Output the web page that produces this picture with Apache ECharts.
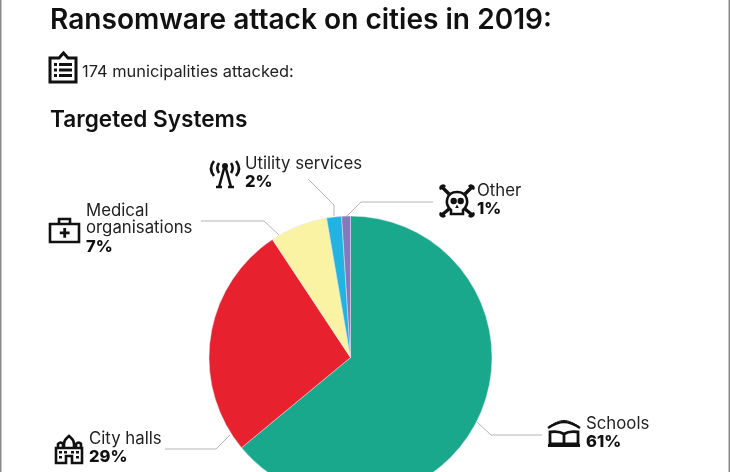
<!DOCTYPE html>
<html>
<head>
<meta charset="utf-8">
<style>
  html, body { margin: 0; padding: 0; background: #fff; }
  #chart { width: 730px; height: 472px; }
</style>
<script src="https://cdn.jsdelivr.net/npm/echarts@6/dist/echarts.min.js"></script>
</head>
<body>
<div id="chart"></div>
<script>
var FONT = "Inter";

var categories = ["Schools", "City halls", "Medical\norganisations", "Utility services", "Other"];
// printed percentages
var printedShares = [61, 29, 7, 2, 1];
// slice sizes as actually drawn in the picture (they differ a bit from the printed numbers)
var drawnShares = [64, 26.7, 6.6, 1.7, 1];
var sliceColors = ["#1aa88c", "#e8212e", "#fbf3a4", "#21b4e0", "#8877bf"];

// label top-left corners and leader lines, same order as categories
var labelSpots = [[586, 415], [89, 430], [86, 202], [245, 155], [477, 182]];
var leaderLines = [
  [[477, 422], [491, 435], [542, 435]],
  [[230, 435], [216, 449], [165, 449]],
  [[279, 235], [264, 221], [201, 221]],
  [[334, 216], [334, 205], [308, 179]],
  [[347, 216], [361, 202], [433, 202]]
];

var pieData = categories.map(function (name, i) {
  return { name: name, value: drawnShares[i], itemStyle: { color: sliceColors[i] } };
});

// icons are svg paths, each one registered as its own shape
var iconCount = 0;
function icon(x, y, d, filled, lineWidth) {
  var shapeName = "icon" + (iconCount++);
  echarts.graphic.registerShape(shapeName, echarts.graphic.extendPath(d, {}));
  return {
    type: shapeName,
    x: x,
    y: y,
    style: filled
      ? { fill: "#111", stroke: null }
      : { fill: null, stroke: "#111", lineWidth: lineWidth || 2.6, lineJoin: "miter" }
  };
}

var myChart = echarts.init(document.getElementById("chart"), null, { renderer: "canvas" });

var option = {
  animation: false,
  backgroundColor: "#fff",
  textStyle: { fontFamily: FONT },
  title: [
    { text: "Ransomware attack on cities in 2019:", left: 45, top: 2, textStyle: { fontFamily: FONT, fontSize: 28.1, fontWeight: 600, color: "#111" } },
    { text: "174 municipalities attacked:", left: 77, top: 59, textStyle: { fontFamily: FONT, fontSize: 16.4, fontWeight: 400, color: "#222" } },
    { text: "Targeted Systems", left: 45, top: 104, textStyle: { fontFamily: FONT, fontSize: 22.6, fontWeight: 600, color: "#111" } }
  ],
  series: [
    {
      type: "pie",
      center: [350.5, 357.5],
      radius: [0, 141.5],
      startAngle: 90,
      clockwise: true,
      data: pieData,
      itemStyle: { borderColor: "#dfe6ee", borderWidth: 0.5 },
      emphasis: { disabled: true },
      label: {
        show: true,
        position: "outside",
        formatter: function (p) {
          var lines = p.name.split("\n").map(function (s) { return "{n|" + s + "}"; });
          lines.push("{p|" + printedShares[p.dataIndex] + "%}");
          return lines.join("\n");
        },
        rich: {
          n: { fontFamily: FONT, fontSize: 16.8, lineHeight: 17.5, color: "#222" },
          p: { fontFamily: FONT, fontSize: 16.5, fontWeight: 800, lineHeight: 20, color: "#111" }
        }
      },
      labelLine: { show: true, lineStyle: { color: "#b4b4b4", width: 1 } },
      labelLayout: function (params) {
        var spot = labelSpots[params.dataIndex];
        return {
          x: spot[0],
          y: spot[1],
          align: "left",
          verticalAlign: "top",
          labelLinePoints: leaderLines[params.dataIndex]
        };
      }
    }
  ],
  graphic: [
    // scan edges
    { type: "rect", shape: { x: 0, y: 0, width: 1.5, height: 472 }, style: { fill: "#8a8a8a" } },
    { type: "rect", shape: { x: 728.5, y: 0, width: 1.5, height: 472 }, style: { fill: "#8a8a8a" } },
    // clipboard
    icon(50, 53, "M0 5H9L13.5 0L18 5H26V29H0Z", false, 3),
    icon(50, 53, "M4 10h3v3h-3zM9 10h13v3h-13zM4 15.5h3v3h-3zM9 15.5h13v3h-13zM4 21h3v3h-3zM9 21h13v3h-13z", true),
    // antenna
    icon(210, 158, "M15 7L9 29M15 7L21 29M6 29H12M18 29H24M4 3C0 8 0 13 4 18M26 3C30 8 30 13 26 18M9 5C7 8 7 12 9 15M21 5C23 8 23 12 21 15"),
    { type: "circle", shape: { cx: 225, cy: 166, r: 3 }, style: { fill: "#111" } },
    // medical case
    icon(50, 218, "M0 6H29V24H0ZM9 6V1H20V6"),
    icon(50, 218, "M13.3 10h2.8v3.5h3.5v2.8h-3.5v3.5h-2.8v-3.5h-3.5v-2.8h3.5z", true),
    // skull and bones
    icon(440, 185, "M3 3L9 9M31 3L25 9M3 29L9 24M31 29L25 24", false, 3.4),
    icon(440, 185, "M11 25C4 19 6 7 17 7C28 7 30 19 23 25V29H11Z", false, 2.6),
    icon(440, 185, "M0 5a3.4 3.4 0 0 1 6 -4L3 4zM34 5a3.4 3.4 0 0 0 -6 -4L31 4zM0 27a3.4 3.4 0 0 0 6 4L3 28zM34 27a3.4 3.4 0 0 1 -6 4L31 28zM10.5 16a3.2 3.2 0 1 0 6.4 0a3.2 3.2 0 1 0 -6.4 0zM17.5 16a3.2 3.2 0 1 0 6.4 0a3.2 3.2 0 1 0 -6.4 0zM15.2 23h3.6l-1.8 -3.5z", true),
    // city hall
    icon(55, 435, "M1 28V13H27V28H17V21H11V28ZM3 9a3 3 0 0 1 5 0V13H3ZM21 9a3 3 0 0 1 5 0V13H21ZM9 9C9 4 12 3 14 1C16 3 19 4 19 9V13H9Z"),
    icon(55, 435, "M4 16h3v2.4h-3zM9 16h3v2.4h-3zM16 16h3v2.4h-3zM21 16h3v2.4h-3zM4 21h3v2.4h-3zM21 21h3v2.4h-3z", true),
    // book
    icon(548, 420, "M0 8C6 4 10 2 16 2C22 2 26 4 32 8", false, 2.4),
    icon(548, 420, "M1 6.5C7 3 11 0.5 16 0.5C21 0.5 25 3 31 6.5", false, 1),
    icon(548, 420, "M2 12C8 11 13 12 16 14C19 12 24 11 30 12V24H2ZM16 14V24", false, 2.8),
    icon(548, 420, "M0 24h32v3h-32z", true)
  ]
};

myChart.setOption(option);
</script>
</body>
</html>
